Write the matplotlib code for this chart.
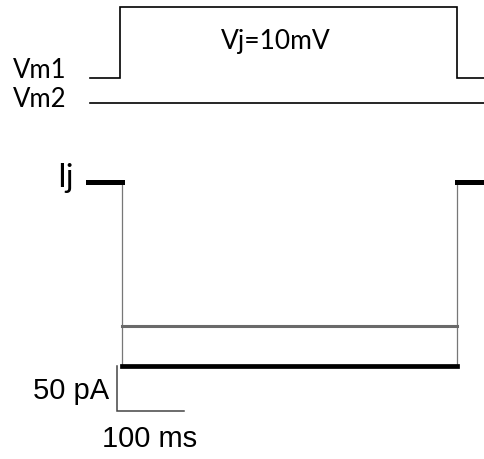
import matplotlib
matplotlib.use("Agg")
import matplotlib.pyplot as plt

# ---- data ----
# time in ms (pulse starts at 0, lasts 500 ms)
t_pre = [-48, 0]
t_pulse = [0, 500]
t_post = [500, 540]
# voltage protocol (mV)
vm1_base = 0
vm1_step = 10
vm2_level = -3.5
# junctional currents (pA)
ij_base = 0
ij_black = -205
ij_gray = -160
# scale bars
scale_t = 100   # ms
scale_i = 50    # pA
labels = {"vm1": "Vm1", "vm2": "Vm2", "vj": "Vj=10mV", "ij": "Ij",
          "si": "50 pA", "st": "100 ms"}

W, H = 484, 460
fig = plt.figure(figsize=(W / 100, H / 100), dpi=100)

xlim = (-178.0, 540.1)

# voltage axes
axv = fig.add_axes([0, 0, 1, 1])
axv.set_xlim(*xlim)
axv.set_ylim(-53.66, 11.13)
axv.axis("off")
axv.plot([-44.5, t_pulse[0], t_pulse[0], t_pulse[1], t_pulse[1], t_post[1]],
         [vm1_base, vm1_base, vm1_step, vm1_step, vm1_base, vm1_base],
         color="black", lw=1.2, solid_joinstyle="miter")
axv.plot([-44.5, t_post[1]], [vm2_level, vm2_level], color="black", lw=1.2)

# current axes
axi = fig.add_axes([0, 0, 1, 1])
axi.set_xlim(*xlim)
axi.set_ylim(-307.8, 203.3)
axi.axis("off")
axi.patch.set_alpha(0)
tr0 = t_pulse[0] + 3
tr1 = t_pulse[1]
# transitions (thin)
axi.plot([tr0, tr0], [ij_base, ij_black], color="#777777", lw=0.9)
axi.plot([tr1, tr1], [ij_black, ij_base], color="#777777", lw=0.9)
# baselines
axi.plot([t_pre[0], tr0], [ij_base, ij_base], color="black", lw=3.6)
axi.plot([tr1, t_post[1]], [ij_base, ij_base], color="black", lw=3.6)
# step levels
axi.plot([tr0, tr1], [ij_gray, ij_gray], color="#6a6a6a", lw=2.2)
axi.plot([tr0, tr1], [ij_black, ij_black], color="black", lw=3.4)

# scale bar
sx0 = -4.5
sy0 = ij_black - scale_i
axi.plot([sx0, sx0, sx0 + scale_t], [ij_black, sy0, sy0],
         color="#444444", lw=1.1, solid_joinstyle="miter")

cal = "Lato"
arial = "Liberation Sans"
def fx(px):
    return px / W
def fy(py):
    return 1 - py / H

fig.text(fx(13), fy(78), labels["vm1"], family=cal, fontsize=18.5, va="baseline", ha="left")
fig.text(fx(13), fy(107), labels["vm2"], family=cal, fontsize=18.5, va="baseline", ha="left")
fig.text(fx(276), fy(49), labels["vj"], family=cal, fontsize=19, va="baseline", ha="center")
fig.text(fx(57), fy(187), labels["ij"], family=cal, fontsize=23, va="baseline", ha="left")
fig.text(fx(109), fy(399), labels["si"], family=arial, fontsize=21, va="baseline", ha="right")
fig.text(fx(150), fy(447), labels["st"], family=arial, fontsize=21, va="baseline", ha="center")

fig.savefig("out.png", dpi=100)
